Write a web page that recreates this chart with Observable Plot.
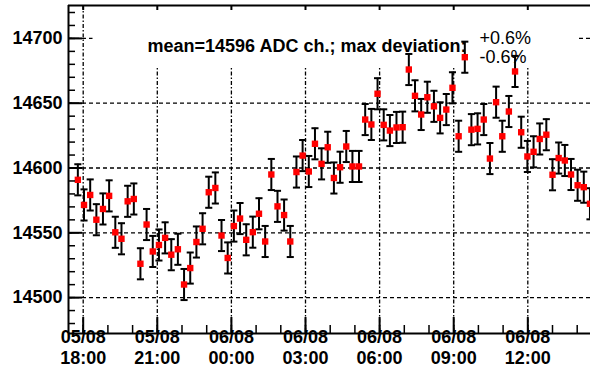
<!DOCTYPE html>
<html><head><meta charset="utf-8">
<script src="https://cdn.jsdelivr.net/npm/d3@7"></script>
<script src="https://cdn.jsdelivr.net/npm/@observablehq/plot@0.6"></script>
<style>body{margin:0;background:#fff}svg{display:block}</style>
</head><body><div id="chart"></div>
<script>
const times = [
"2008-08-05T17:47","2008-08-05T18:02","2008-08-05T18:17","2008-08-05T18:32","2008-08-05T18:48",
"2008-08-05T19:03","2008-08-05T19:18","2008-08-05T19:33","2008-08-05T19:48","2008-08-05T20:03",
"2008-08-05T20:19","2008-08-05T20:34","2008-08-05T20:49","2008-08-05T21:04","2008-08-05T21:19",
"2008-08-05T21:34","2008-08-05T21:50","2008-08-05T22:05","2008-08-05T22:20","2008-08-05T22:35",
"2008-08-05T22:50","2008-08-05T23:05","2008-08-05T23:21","2008-08-05T23:36","2008-08-05T23:51",
"2008-08-06T00:06","2008-08-06T00:21","2008-08-06T00:36","2008-08-06T00:52","2008-08-06T01:07",
"2008-08-06T01:22","2008-08-06T01:37","2008-08-06T01:52","2008-08-06T02:08","2008-08-06T02:23",
"2008-08-06T02:38","2008-08-06T02:53","2008-08-06T03:08","2008-08-06T03:23","2008-08-06T03:39",
"2008-08-06T03:54","2008-08-06T04:09","2008-08-06T04:24","2008-08-06T04:39","2008-08-06T04:54",
"2008-08-06T05:10","2008-08-06T05:25","2008-08-06T05:40","2008-08-06T05:55","2008-08-06T06:10",
"2008-08-06T06:25","2008-08-06T06:41","2008-08-06T06:56","2008-08-06T07:11","2008-08-06T07:26",
"2008-08-06T07:41","2008-08-06T07:56","2008-08-06T08:12","2008-08-06T08:27","2008-08-06T08:42",
"2008-08-06T08:57","2008-08-06T09:12","2008-08-06T09:27","2008-08-06T09:43","2008-08-06T09:58",
"2008-08-06T10:13","2008-08-06T10:28","2008-08-06T10:43","2008-08-06T10:58","2008-08-06T11:14",
"2008-08-06T11:29","2008-08-06T11:44","2008-08-06T11:59","2008-08-06T12:14","2008-08-06T12:29",
"2008-08-06T12:45","2008-08-06T13:00","2008-08-06T13:15","2008-08-06T13:30","2008-08-06T13:45",
"2008-08-06T14:01","2008-08-06T14:16","2008-08-06T14:31"];
const values = [
14590.9,14571.5,14579.2,14560.1,14568.4,14578.5,14550.4,14545.4,14574.3,14576.1,
14526.1,14556.4,14535.6,14540.6,14546.1,14533.1,14537.3,14510.1,14522.8,14542.9,
14553.1,14581.3,14584.6,14547.9,14530.6,14555.2,14561.0,14544.6,14550.5,14564.7,
14543.3,14595.0,14570.4,14563.7,14543.3,14596.9,14609.6,14597.3,14618.7,14603.2,
14616.0,14592.3,14600.6,14616.6,14601.2,14601.2,14637.4,14633.6,14657.3,14633.3,
14628.9,14631.3,14631.5,14676.0,14655.7,14641.3,14654.6,14647.6,14638.7,14645.1,
14661.9,14624.5,14685.5,14629.6,14630.2,14637.4,14607.3,14650.8,14624.5,14643.6,
14674.5,14627.6,14608.9,14612.5,14622.4,14625.7,14594.8,14607.7,14605.8,14595.0,
14586.7,14585.2,14572.4];
const errors = [
12,12,12,12,12,12,12,12,12,12,
12,12,12,12,12,12,12,12,12,12,
12,12,12,12,12,12,12,12,12,12,
12,12,12,12,12,12,12,12,12,12,
12,12,12,12,12,12,12,12,12,12,
12,12,12,12,12,12,12,12,12,12,
12,12,12,12,12,12,12,12,12,12,
12,12,12,12,12,12,12,12,12,12,
12,12,12];
const yMajor = [14500, 14550, 14600, 14650, 14700];
const xMajorStr = ["2008-08-05T18:00","2008-08-05T21:00","2008-08-06T00:00","2008-08-06T03:00",
                   "2008-08-06T06:00","2008-08-06T09:00","2008-08-06T12:00"];
const annotation = "mean=14596 ADC ch.; max deviation:";
const devPlus = "+0.6%";
const devMinus = "-0.6%";

const parse = d3.timeParse("%Y-%m-%dT%H:%M");
const data = times.map((t, i) => ({t: parse(t), v: values[i], e: errors[i]}));
const xMajor = xMajorStr.map(parse);
const x0 = new Date(2008, 7, 5, 17, 24, 18), x1 = new Date(2008, 7, 6, 14, 32, 18);
const yDom = [14472.3, 14725.4];
const xMinor = d3.timeHour.range(new Date(2008, 7, 5, 18), new Date(2008, 7, 6, 14, 30));
const yMinor = d3.range(14480, 14721, 10);

const W = 590, H = 373, mL = 68, mR = 0, mT = 5, mB = 40;
const fW = W - mL - mR, fH = H - mT - mB;
const font = "'Liberation Sans', Arial, Helvetica, sans-serif";
const capSymbol = {draw(ctx, size) { const w = Math.sqrt(size); ctx.moveTo(-w/2, 0); ctx.lineTo(w/2, 0); }};
const fmtD = d3.timeFormat("%d/%m"), fmtH = d3.timeFormat("%H:%M");

const chart = Plot.plot({
  width: W, height: H, marginLeft: mL, marginRight: mR, marginTop: mT, marginBottom: mB,
  x: {type: "time", domain: [x0, x1], axis: null},
  y: {domain: yDom, axis: null},
  style: {fontFamily: font, background: "white", color: "black"},
  marks: [
    Plot.ruleY(yMajor, {y: d => d, stroke: "black", strokeWidth: 1.3, strokeDasharray: "4,3"}),
    Plot.ruleX(xMajor, {x: d => d, stroke: "black", strokeWidth: 1.3, strokeDasharray: "4,2,1.5,2"}),
    Plot.frame({fill: "white", stroke: "none", insetLeft: 24, insetRight: 12, insetBottom: 266}),
    Plot.text([annotation], {text: d => d, frameAnchor: "top-left", dx: 79, dy: 34, textAnchor: "start", fontSize: 18, fontWeight: "bold", fill: "black"}),
    Plot.text([devPlus], {text: d => d, frameAnchor: "top-left", dx: 411, dy: 26, textAnchor: "start", fontSize: 18, fill: "black"}),
    Plot.text([devMinus], {text: d => d, frameAnchor: "top-left", dx: 411, dy: 45, textAnchor: "start", fontSize: 18, fill: "black"}),
    Plot.ruleX(data, {x: "t", y1: d => d.v - d.e, y2: d => d.v + d.e, stroke: "black", strokeWidth: 2}),
    Plot.dot(data, {x: "t", y: d => d.v + d.e, symbol: capSymbol, r: 4, stroke: "black", strokeWidth: 2, fill: "none"}),
    Plot.dot(data, {x: "t", y: d => d.v - d.e, symbol: capSymbol, r: 4, stroke: "black", strokeWidth: 2, fill: "none"}),
    Plot.dot(data, {x: "t", y: "v", symbol: "square", r: 3.6, fill: "#ff0000", stroke: "none"}),
    Plot.ruleY([yDom[1]], {y: d => d, stroke: "black", strokeWidth: 2}),
    Plot.ruleY([yDom[0]], {y: d => d, stroke: "black", strokeWidth: 2}),
    Plot.ruleX([x0], {x: d => d, stroke: "black", strokeWidth: 2}),
    Plot.tickY(yMajor, {y: d => d, insetRight: fW - 14, stroke: "black", strokeWidth: 2}),
    Plot.tickY(yMinor, {y: d => d, insetRight: fW - 7, stroke: "black", strokeWidth: 1.5}),
    Plot.tickX(xMajor, {x: d => d, insetTop: fH - 16, stroke: "black", strokeWidth: 2}),
    Plot.tickX(xMinor, {x: d => d, insetTop: fH - 8, stroke: "black", strokeWidth: 1.5}),
    Plot.tickX(xMajor, {x: d => d, insetBottom: fH - 5, stroke: "black", strokeWidth: 2}),
    Plot.text(yMajor, {y: d => d, text: d => String(d), frameAnchor: "left", dx: -6, textAnchor: "end", fontSize: 18, fontWeight: "bold", fill: "black"}),
    Plot.text(xMajor, {x: d => d, text: d => fmtD(d), frameAnchor: "bottom", dy: 9, fontSize: 18, fontWeight: "bold", fill: "black"}),
    Plot.text(xMajor, {x: d => d, text: d => fmtH(d), frameAnchor: "bottom", dy: 30, fontSize: 18, fontWeight: "bold", fill: "black"})
  ]
});
document.getElementById("chart").appendChild(chart);
</script>
</body></html>
